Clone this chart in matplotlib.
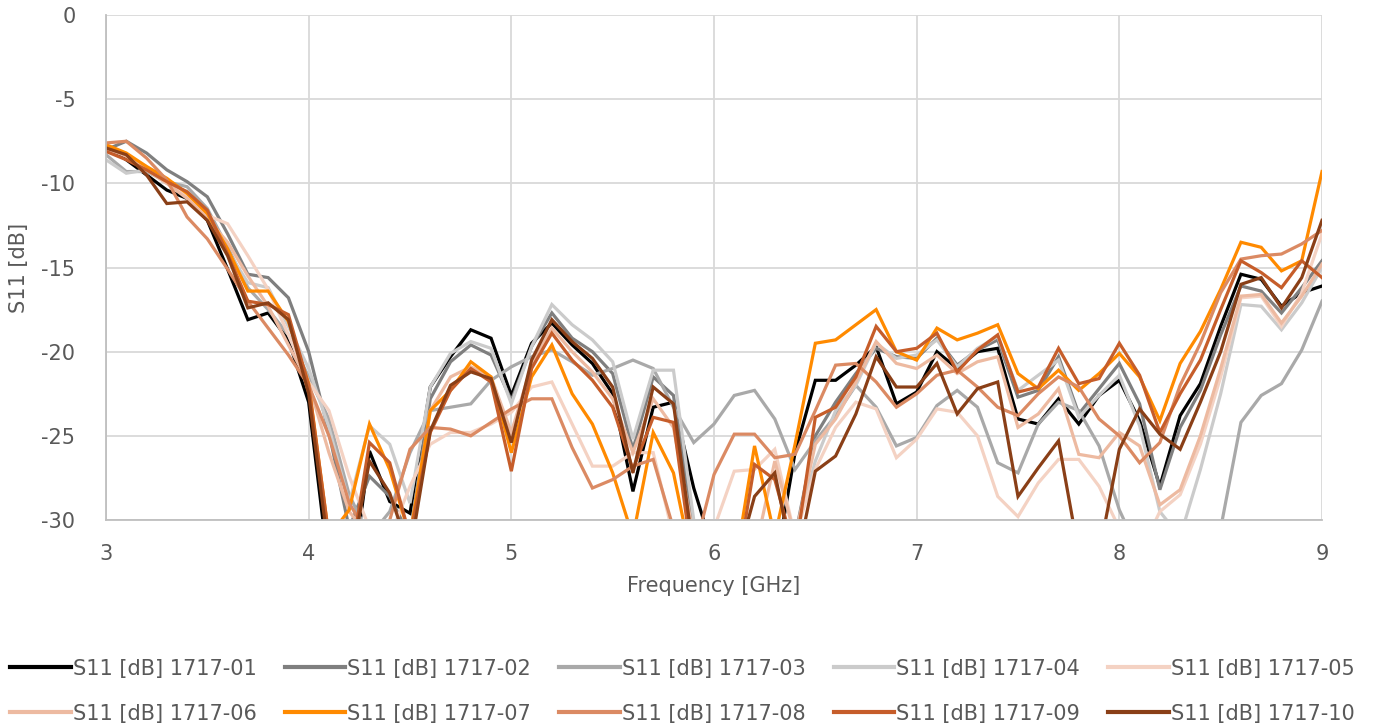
import matplotlib
matplotlib.use("Agg")
import matplotlib.pyplot as plt
import numpy as np

freq = np.round(np.arange(3.0, 9.0001, 0.1), 1)

s01 = [-7.8, -8.6, -9.5, -10.4, -10.9, -12.2, -15.1, -18.1, -17.7, -19.3, -23.0,
       -33, -35, -25.9, -28.9, -29.6, -22.1, -20.3, -18.7, -19.2, -22.6,
       -19.5, -18.3, -19.6, -20.7, -22.5, -28.3, -23.3, -23.0, -28.1, -32,
       -34, -34, -33, -26.0, -21.7, -21.7, -20.8, -19.7, -23.1, -22.4,
       -20.0, -21.0, -20.0, -19.8, -24.0, -24.3, -22.8, -24.3, -22.6, -21.7,
       -24.1, -28.0, -23.8, -21.9, -18.5, -15.4, -15.7, -17.3, -16.5, -16.1]
s02 = [-8.0, -7.5, -8.2, -9.2, -9.9, -10.8, -13.0, -15.4, -15.6, -16.8, -20.0,
       -24.8, -30.5, -27.4, -28.6, -31, -22.8, -20.6, -19.6, -20.2, -22.9,
       -19.7, -17.7, -19.2, -20.0, -21.3, -25.8, -21.5, -22.6, -30.5, -33,
       -34, -34, -33, -31, -25.0, -23.0, -21.3, -19.8, -20.3, -20.4,
       -19.2, -20.8, -19.9, -19.3, -22.7, -22.3, -20.3, -23.7, -22.2, -20.7,
       -23.1, -28.2, -24.5, -22.3, -19.0, -16.1, -16.4, -17.7, -16.2, -14.6]
s03 = [-8.3, -9.3, -9.3, -9.9, -10.2, -11.5, -13.8, -16.2, -17.5, -19.0, -21.5,
       -24.0, -28.5, -31, -29.5, -26.0, -23.5, -23.3, -23.1, -21.7, -20.9,
       -20.3, -19.9, -20.6, -21.4, -21.0, -20.5, -21.0, -23.3, -25.4, -24.3,
       -22.6, -22.3, -24.0, -27.0, -25.3, -23.8, -22.0, -23.3, -25.6, -25.1,
       -23.2, -22.3, -23.3, -26.6, -27.2, -24.3, -23.0, -23.5, -25.6, -29.4,
       -32, -33, -34, -33, -30.5, -24.2, -22.6, -21.9, -19.9, -17.0]
s04 = [-8.6, -9.4, -9.2, -10.0, -10.5, -11.8, -14.0, -15.9, -16.2, -18.5, -21.0,
       -24.5, -29.0, -24.4, -25.5, -29.0, -22.1, -20.1, -19.4, -19.8, -23.1,
       -19.7, -17.2, -18.4, -19.3, -20.6, -25.2, -21.1, -21.1, -30.0, -33,
       -34, -34, -33, -31, -26.5, -23.5, -22.0, -19.5, -20.4, -20.2,
       -19.3, -20.9, -19.8, -19.1, -22.3, -21.4, -20.5, -23.9, -22.6, -21.4,
       -24.4, -29.5, -31, -27.0, -22.5, -17.2, -17.3, -18.7, -17.1, -15.0]
s05 = [-8.0, -8.3, -9.0, -9.8, -10.7, -11.9, -12.4, -14.3, -16.3, -19.0, -21.8,
       -23.5, -27.4, -30.5, -31, -28.0, -25.5, -24.8, -24.8, -24.3, -23.6,
       -22.1, -21.8, -24.3, -26.8, -26.8, -26.0, -26.0, -31, -32, -30.5,
       -27.1, -27.0, -25.8, -31, -27.0, -24.5, -23.0, -23.4, -26.3, -25.2,
       -23.4, -23.6, -25.0, -28.6, -29.8, -27.8, -26.4, -26.4, -28.0, -30.5,
       -32, -29.5, -28.5, -25.5, -21.5, -16.8, -16.7, -18.5, -16.5, -13.0]
s06 = [-7.9, -8.4, -9.2, -10.0, -10.9, -12.1, -13.5, -15.5, -17.3, -19.6, -21.9,
       -26.0, -29.5, -31, -32, -31, -23.5, -21.5, -20.9, -21.5, -24.8,
       -20.8, -18.6, -20.0, -21.2, -22.8, -26.0, -22.8, -24.5, -31, -33,
       -33, -32, -26.5, -31, -25.5, -24.0, -21.8, -19.4, -20.7, -21.0,
       -20.2, -21.3, -20.6, -20.3, -24.5, -23.7, -22.2, -26.1, -26.3, -24.8,
       -25.6, -29.1, -28.2, -25.0, -21.0, -16.7, -16.6, -18.3, -16.7, -14.8]
s07 = [-7.7, -8.2, -9.0, -9.7, -10.6, -11.8, -13.9, -16.4, -16.4, -18.2, -21.9,
       -31, -29.4, -24.3, -27.0, -31, -23.5, -22.3, -20.6, -21.5, -26.0,
       -21.5, -19.6, -22.5, -24.3, -27.2, -31, -24.8, -27.2, -33, -34,
       -33, -25.6, -31, -25.5, -19.5, -19.3, -18.4, -17.5, -20.0, -20.5,
       -18.6, -19.3, -18.9, -18.4, -21.3, -22.2, -21.1, -22.3, -21.3, -20.1,
       -21.5, -24.1, -20.7, -18.8, -16.3, -13.5, -13.8, -15.2, -14.6, -9.3]
s08 = [-7.6, -7.5, -8.5, -9.8, -12.0, -13.3, -15.1, -17.0, -18.6, -20.2, -22.0,
       -25.0, -29.0, -31, -30, -25.8, -24.5, -24.6, -25.0, -24.2, -23.4,
       -22.8, -22.8, -25.7, -28.1, -27.6, -26.8, -26.4, -30.5, -32, -27.3,
       -24.9, -24.9, -26.3, -26.1, -23.5, -20.8, -20.7, -21.8, -23.3, -22.5,
       -21.4, -21.1, -22.1, -23.3, -23.8, -22.5, -21.5, -22.1, -24.0, -25.0,
       -26.6, -25.4, -22.0, -19.5, -16.5, -14.5, -14.3, -14.2, -13.6, -12.8]
s09 = [-8.1, -8.6, -9.2, -9.9, -10.5, -11.6, -14.2, -17.0, -17.2, -17.8, -22.0,
       -31, -33, -25.4, -26.6, -31, -24.8, -22.3, -21.0, -21.8, -27.1,
       -21.0, -18.9, -20.5, -21.7, -23.3, -27.0, -23.9, -24.2, -33, -34,
       -34, -26.7, -27.6, -32, -23.9, -23.3, -21.5, -18.5, -20.0, -19.8,
       -18.9, -21.2, -19.9, -19.0, -22.4, -22.1, -19.8, -21.9, -21.6, -19.5,
       -21.4, -24.8, -22.5, -20.5, -17.5, -14.6, -15.3, -16.2, -14.6, -15.6]
s10 = [-7.9, -8.3, -9.5, -11.2, -11.1, -12.2, -14.3, -17.4, -17.1, -18.1, -22.5,
       -32, -33, -26.5, -28.4, -32, -24.7, -22.0, -21.2, -21.6, -25.4,
       -20.5, -18.1, -19.4, -20.4, -22.1, -27.2, -22.1, -23.1, -32, -34,
       -33, -28.6, -27.2, -33, -27.1, -26.2, -23.7, -20.3, -22.1, -22.1,
       -20.7, -23.7, -22.2, -21.8, -28.6, -26.9, -25.3, -32, -32, -25.8,
       -23.4, -24.9, -25.8, -23.0, -20.0, -16.0, -15.6, -17.4, -15.6, -12.2]

series = [s01, s02, s03, s04, s05, s06, s07, s08, s09, s10]
labels = ["S11 [dB] 1717-01", "S11 [dB] 1717-02", "S11 [dB] 1717-03", "S11 [dB] 1717-04",
          "S11 [dB] 1717-05", "S11 [dB] 1717-06", "S11 [dB] 1717-07", "S11 [dB] 1717-08",
          "S11 [dB] 1717-09", "S11 [dB] 1717-10"]
colors = ["#000000", "#7f7f7f", "#a9a9a9", "#cbcbcb", "#f4d2c3",
          "#edbaa1", "#ff8a00", "#db8a63", "#c65d2a", "#8a3f17"]

xticks = [3, 4, 5, 6, 7, 8, 9]
yticks = [0, -5, -10, -15, -20, -25, -30]

fig = plt.figure(figsize=(13.75, 7.24), dpi=100)
ax = fig.add_axes([106/1375, 1-520/724, (1322-106)/1375, (520-15)/724])

for s, lab, c in zip(series, labels, colors):
    ax.plot(freq, s, color=c, lw=2.3, label=lab, solid_joinstyle="miter")

ax.set_xlim(3, 9)
ax.set_ylim(-30, 0)
ax.set_xticks(xticks)
ax.set_yticks(yticks)
ax.set_yticklabels([str(t) for t in yticks])
ax.grid(True, color="#d9d9d9", lw=1.3)
ax.set_axisbelow(True)
for sp in ["top", "right"]:
    ax.spines[sp].set_visible(False)
for sp in ["left", "bottom"]:
    ax.spines[sp].set_color("#bfbfbf")
    ax.spines[sp].set_linewidth(1.3)
ax.tick_params(length=0, labelsize=15, colors="#595959")
ax.tick_params(axis="x", pad=17)
ax.tick_params(axis="y", pad=22)
ax.set_xlabel("Frequency [GHz]", fontsize=15, color="#595959", labelpad=9)
ax.set_ylabel("S11 [dB]", fontsize=15, color="#595959", labelpad=9)

handles, labs = ax.get_legend_handles_labels()
order = [0, 5, 1, 6, 2, 7, 3, 8, 4, 9]
leg = fig.legend([handles[i] for i in order], [labs[i] for i in order], ncol=5,
                 loc="lower left", bbox_to_anchor=(0.0, -0.014), frameon=False,
                 fontsize=15, labelcolor="#595959", handlelength=2.9, handletextpad=0.1,
                 columnspacing=1.35, borderaxespad=0.1, labelspacing=1.2)
for ln in leg.get_lines():
    ln.set_linewidth(3.0)

fig.savefig("out.png", dpi=100)
